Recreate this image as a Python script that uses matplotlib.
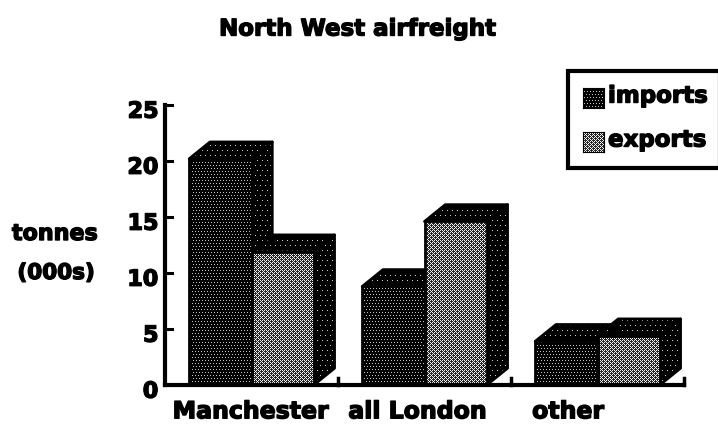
import numpy as np
import matplotlib
matplotlib.use("Agg")
import matplotlib.pyplot as plt
import matplotlib.patheffects as pe
from matplotlib.patches import Polygon

categorias = ["Manchester", "all London", "other"]
imports = [20.2, 8.8, 3.9]
exports = [11.9, 14.6, 4.4]
ticks_y = [0, 5, 10, 15, 20, 25]
pos_etiquetas = [-0.005, 0.96, 1.83]

W, H = 718, 430
ANCHO_EJES, ALTO_EJES = 519, 280
fig = plt.figure(figsize=(W / 100, H / 100), dpi=100)
ax = fig.add_axes([165 / W, 1 - 385 / H, ANCHO_EJES / W, ALTO_EJES / H])
ax.axis("off")

grueso = [pe.withStroke(linewidth=1.0, foreground="black")]


def trama(paso, nivel, filas, columnas):
    # punteado regular: un punto claro cada "paso" pixeles, en filas alternadas
    img = np.zeros((filas, columnas))
    for f in range(0, filas, paso):
        corr = paso // 2 if (f // paso) % 2 else 0
        img[f, corr::paso] = nivel
    return img


def trama_clara(filas, columnas):
    # reticula diagonal blanca sobre negro para la serie exports
    yy, xx = np.mgrid[0:filas, 0:columnas]
    reticula = ((xx + yy) % 4 == 0) | ((xx - yy) % 4 == 0)
    return np.where(reticula, 0.95, 0.15)


# las texturas van a un pixel de imagen por pixel de figura
frente_osc = trama(3, 0.75, ALTO_EJES, ANCHO_EJES)
frente_cla = trama_clara(ALTO_EJES, ANCHO_EJES)
lateral = trama(5, 0.8, ALTO_EJES, ANCHO_EJES)
extent = (-0.5, 2.5, 0, 25)


def cara(puntos, textura, z):
    pol = Polygon(puntos, closed=True, facecolor="none", edgecolor="black", lw=2, joinstyle="round", zorder=z + 0.5)
    ax.add_patch(pol)
    im = ax.imshow(textura, cmap="gray", vmin=0, vmax=1, extent=extent, aspect="auto",
                   interpolation="nearest", zorder=z)
    im.set_clip_path(pol)


ancho = 0.36
prof_x = 0.12
prof_y = 1.5


def barra(x, v, textura, z):
    izq, der = x - ancho, x
    cara([(izq, v), (izq + prof_x, v + prof_y), (der + prof_x, v + prof_y), (der, v)], lateral, z)
    cara([(der, 0), (der + prof_x, prof_y), (der + prof_x, v + prof_y), (der, v)], lateral, z)
    cara([(izq, 0), (izq, v), (der, v), (der, 0)], textura, z + 1)


for i in range(3):
    barra(i, imports[i], frente_osc, 3 + i)
    barra(i + ancho, exports[i], frente_cla, 3.2 + i)

ax.set_xlim(-0.5, 2.5)
ax.set_ylim(0, 25)

# ejes dibujados a mano con marcas hacia adentro
ax.plot([-0.5, -0.5], [0, 25], color="black", lw=3, clip_on=False, zorder=9, solid_capstyle="projecting")
ax.plot([-0.5, 2.5], [0, 0], color="black", lw=3, clip_on=False, zorder=9, solid_capstyle="projecting")
for t in ticks_y:
    ax.plot([-0.5, -0.46], [t, t], color="black", lw=2.2, clip_on=False, zorder=9)
    ax.text(-0.538, t - 0.6, str(t), ha="right", va="center", fontsize=16, fontweight="bold",
            path_effects=grueso, clip_on=False)
for x in [0.5, 1.5, 2.5]:
    ax.plot([x, x], [0, 0.6], color="black", lw=2.5, clip_on=False, zorder=9)

for x, c in zip(pos_etiquetas, categorias):
    ax.text(x, -2.35, c, ha="center", va="center", fontsize=17, fontweight="bold",
            path_effects=grueso, clip_on=False)

fig.text(357 / W, 1 - 29 / H, "North West airfreight", ha="center", va="center",
         fontsize=16.5, fontweight="bold", path_effects=grueso)
fig.text(55 / W, 1 - 234 / H, "tonnes", ha="center", va="center", fontsize=16,
         fontweight="bold", path_effects=grueso)
fig.text(56 / W, 1 - 273 / H, "(000s)", ha="center", va="center", fontsize=15.5,
         fontweight="bold", path_effects=grueso)

# caja de la leyenda
fig.add_artist(plt.Rectangle((568 / W, 1 - 168 / H), 152 / W, 97 / H, transform=fig.transFigure,
                             facecolor="white", edgecolor="black", lw=3))
for y, textura, txt in [(98, frente_osc, "imports"), (142, frente_cla, "exports")]:
    cuadro = fig.add_axes([583 / W, 1 - (y + 10) / H, 21 / W, 20 / H], zorder=5)
    cuadro.imshow(textura[:20, :21], cmap="gray", vmin=0, vmax=1, aspect="auto", interpolation="nearest")
    cuadro.set_xticks([])
    cuadro.set_yticks([])
    fig.text(608 / W, 1 - (y - 2) / H, txt, ha="left", va="center", fontsize=16.5,
             fontweight="bold", path_effects=grueso, zorder=6)

fig.savefig("out.png", dpi=100)
